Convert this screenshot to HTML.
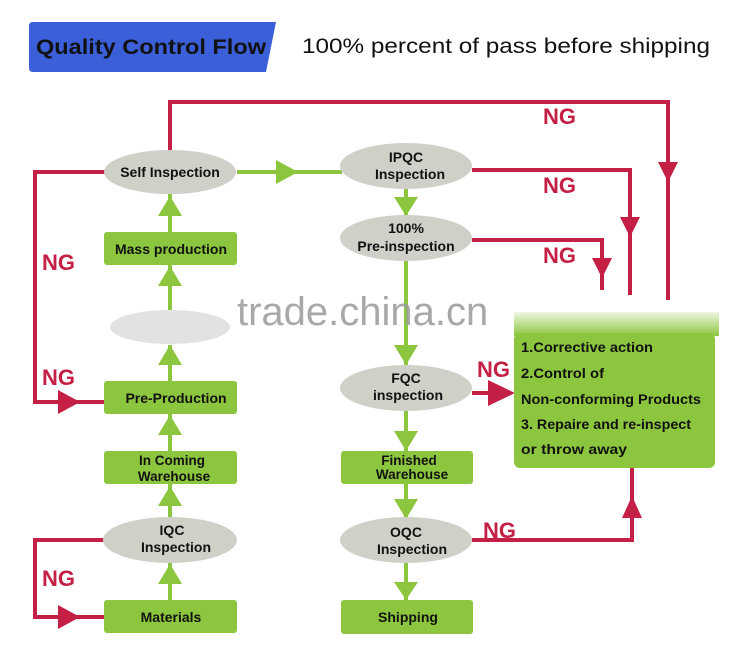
<!DOCTYPE html>
<html><head><meta charset="utf-8"><style>
html,body{margin:0;padding:0;background:#fff;}
svg{display:block;}
text{font-family:"Liberation Sans",sans-serif;font-weight:bold;}
</style></head><body>
<svg width="741" height="652" viewBox="0 0 741 652" xmlns="http://www.w3.org/2000/svg">
<defs>
<linearGradient id="fade" x1="0" y1="0" x2="0" y2="1">
<stop offset="0" stop-color="#8cc63f" stop-opacity="0.15"/><stop offset="1" stop-color="#8cc63f" stop-opacity="1"/></linearGradient>
</defs>
<rect width="741" height="652" fill="#fff"/>
<path d="M33,22 L276,22 L266,72 L33,72 Q29,72 29,68 L29,26 Q29,22 33,22Z" fill="#3a5fd8"/>
<text x="36" y="54" font-size="21" fill="#111" textLength="230" lengthAdjust="spacingAndGlyphs">Quality Control Flow</text>
<text x="302" y="53" font-size="21" style="font-weight:normal" fill="#111" textLength="408" lengthAdjust="spacingAndGlyphs">100% percent of pass  before shipping</text>

<g stroke="#c41f44" stroke-width="4" fill="none">
<polyline points="170,152 170,102 668,102 668,300"/>
<polyline points="472,170 630,170 630,295"/>
<polyline points="472,240 602,240 602,290"/>
<polyline points="472,393 500,393"/>
<polyline points="472,540 632,540 632,468"/>
<polyline points="105,172 35,172 35,402 105,402"/>
<polyline points="105,540 35,540 35,617 105,617"/>
</g>
<g fill="#c41f44">
<polygon points="658,162 678,162 668,182"/>
<polygon points="620,217 640,217 630,237"/>
<polygon points="592,258 612,258 602,278"/>
<polygon points="488,380 515,393 488,406"/>
<polygon points="622,518 642,518 632,496"/>
<polygon points="58,390 80,402 58,414"/>
<polygon points="58,605 80,617 58,629"/>
</g>
<g font-size="22">
<text x="543" y="124" fill="#c41f44">NG</text>
<text x="543" y="193" fill="#c41f44">NG</text>
<text x="543" y="263" fill="#c41f44">NG</text>
<text x="477" y="377" fill="#c41f44">NG</text>
<text x="483" y="538" fill="#c41f44">NG</text>
<text x="42" y="270" fill="#c41f44">NG</text>
<text x="42" y="385" fill="#c41f44">NG</text>
<text x="42" y="586" fill="#c41f44">NG</text>
</g>

<g stroke="#8cc63f" stroke-width="4">
<line x1="237" y1="172" x2="342" y2="172"/>
<line x1="170" y1="194" x2="170" y2="232"/>
<line x1="170" y1="265" x2="170" y2="310"/>
<line x1="170" y1="345" x2="170" y2="381"/>
<line x1="170" y1="414" x2="170" y2="451"/>
<line x1="170" y1="484" x2="170" y2="517"/>
<line x1="170" y1="563" x2="170" y2="600"/>
<line x1="406" y1="188" x2="406" y2="216"/>
<line x1="406" y1="260" x2="406" y2="365"/>
<line x1="406" y1="411" x2="406" y2="451"/>
<line x1="406" y1="484" x2="406" y2="517"/>
<line x1="406" y1="563" x2="406" y2="600"/>
</g>
<g fill="#8cc63f">
<polygon points="276,160 298,172 276,184"/>
<polygon points="158,216 182,216 170,196"/>
<polygon points="158,286 182,286 170,266"/>
<polygon points="158,365 182,365 170,345"/>
<polygon points="158,435 182,435 170,415"/>
<polygon points="158,506 182,506 170,486"/>
<polygon points="158,584 182,584 170,564"/>
<polygon points="394,197 418,197 406,216"/>
<polygon points="394,345 418,345 406,365"/>
<polygon points="394,431 418,431 406,451"/>
<polygon points="394,499 418,499 406,519"/>
<polygon points="394,582 418,582 406,600"/>
</g>

<g fill="#111">
<ellipse cx="170" cy="172" rx="66" ry="22" fill="#cfd0c8"/>
<text x="170" y="177" font-size="14" text-anchor="middle">Self Inspection</text>
<rect x="104" y="232" width="133" height="33" rx="3" fill="#8cc63f"/>
<text x="171" y="254" font-size="14" text-anchor="middle">Mass production</text>
<ellipse cx="170" cy="327" rx="60" ry="17" fill="#cfcfcf" opacity="0.6"/>
<rect x="104" y="381" width="133" height="33" rx="3" fill="#8cc63f"/>
<text x="176" y="403" font-size="14" text-anchor="middle">Pre-Production</text>
<rect x="104" y="451" width="133" height="33" rx="3" fill="#8cc63f"/>
<text x="172" y="465" font-size="13.5" text-anchor="middle">In Coming</text>
<text x="174" y="481" font-size="13.5" text-anchor="middle">Warehouse</text>
<ellipse cx="170" cy="540" rx="67" ry="23" fill="#cfd0c8"/>
<text x="172" y="535" font-size="14" text-anchor="middle">IQC</text>
<text x="176" y="552" font-size="14" text-anchor="middle">Inspection</text>
<rect x="104" y="600" width="133" height="33" rx="3" fill="#8cc63f"/>
<text x="171" y="622" font-size="14" text-anchor="middle">Materials</text>

<ellipse cx="406" cy="166" rx="66" ry="23" fill="#cfd0c8"/>
<text x="406" y="162" font-size="14" text-anchor="middle">IPQC</text>
<text x="410" y="179" font-size="14" text-anchor="middle">Inspection</text>
<ellipse cx="406" cy="238" rx="66" ry="23" fill="#cfd0c8"/>
<text x="406" y="233" font-size="14" text-anchor="middle">100%</text>
<text x="406" y="251" font-size="14" text-anchor="middle">Pre-inspection</text>
<ellipse cx="406" cy="388" rx="66" ry="23" fill="#cfd0c8"/>
<text x="406" y="383" font-size="14" text-anchor="middle">FQC</text>
<text x="408" y="400" font-size="14" text-anchor="middle">inspection</text>
<rect x="341" y="451" width="132" height="33" rx="3" fill="#8cc63f"/>
<text x="409" y="465" font-size="13.5" text-anchor="middle">Finished</text>
<text x="412" y="479" font-size="13.5" text-anchor="middle">Warehouse</text>
<ellipse cx="406" cy="540" rx="66" ry="23" fill="#cfd0c8"/>
<text x="406" y="537" font-size="14" text-anchor="middle">OQC</text>
<text x="412" y="554" font-size="14" text-anchor="middle">Inspection</text>
<rect x="341" y="600" width="132" height="34" rx="3" fill="#8cc63f"/>
<text x="408" y="622" font-size="14" text-anchor="middle">Shipping</text>

<rect x="514" y="312" width="205" height="24" fill="url(#fade)"/>
<rect x="514" y="333" width="201" height="135" rx="6" fill="#8cc63f"/>
<g font-size="13.5">
<text x="521" y="352" textLength="132" lengthAdjust="spacingAndGlyphs">1.Corrective  action</text>
<text x="521" y="378" textLength="83" lengthAdjust="spacingAndGlyphs">2.Control of</text>
<text x="521" y="404" textLength="180" lengthAdjust="spacingAndGlyphs">Non-conforming Products</text>
<text x="521" y="429" textLength="170" lengthAdjust="spacingAndGlyphs">3. Repaire and re-inspect</text>
<text x="521" y="454" textLength="106" lengthAdjust="spacingAndGlyphs">or  throw  away</text>
</g>
</g>

<text x="237" y="325" font-size="40" style="font-weight:normal" fill="#9a9a9a" opacity="0.85">trade.china.cn</text>
</svg>
</body></html>
